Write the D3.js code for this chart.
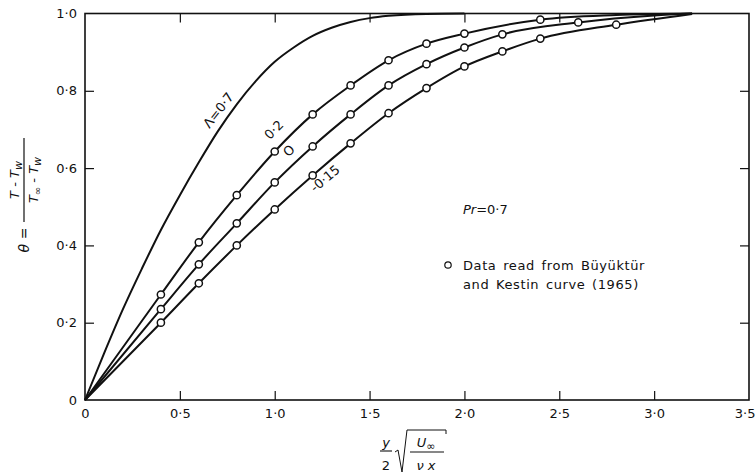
<!DOCTYPE html>
<html>
<head>
<meta charset="utf-8">
<script src="https://cdn.jsdelivr.net/npm/d3@7/dist/d3.min.js"></script>
<style>
  body { margin: 0; background: #fff; }
  svg text { font-family: "DejaVu Sans", sans-serif; fill: #111; }
</style>
</head>
<body>
<div id="container"></div>
<script>
let w = 755;
let h = 476;

// curve for Lambda = 0.7 (no data points)
let lam07X = [0, 0.1, 0.2, 0.3, 0.4, 0.5, 0.6, 0.7, 0.8, 0.9, 1.0, 1.1, 1.2, 1.3, 1.4, 1.5, 1.6, 1.8, 2.0];
let lam07Y = [0, 0.12, 0.235, 0.34, 0.44, 0.53, 0.615, 0.695, 0.765, 0.825, 0.875, 0.912, 0.942, 0.963, 0.978, 0.988, 0.994, 0.999, 1.0];

// Lambda = 0.2
let lam02X = [0, 0.4, 0.6, 0.8, 1.0, 1.2, 1.4, 1.6, 1.8, 2.0, 2.4, 2.8, 3.2];
let lam02Y = [0, 0.273, 0.408, 0.53, 0.643, 0.739, 0.814, 0.879, 0.922, 0.948, 0.984, 0.996, 1.0];
let lam02Pts = [1, 2, 3, 4, 5, 6, 7, 8, 9, 10];

// Lambda = 0
let lam0X = [0, 0.4, 0.6, 0.8, 1.0, 1.2, 1.4, 1.6, 1.8, 2.0, 2.2, 2.6, 3.0, 3.2];
let lam0Y = [0, 0.235, 0.351, 0.457, 0.563, 0.656, 0.739, 0.814, 0.869, 0.912, 0.946, 0.977, 0.995, 1.0];
let lam0Pts = [1, 2, 3, 4, 5, 6, 7, 8, 9, 10, 11];

// Lambda = -0.15
let lamM15X = [0, 0.4, 0.6, 0.8, 1.0, 1.2, 1.4, 1.6, 1.8, 2.0, 2.2, 2.4, 2.8, 3.2];
let lamM15Y = [0, 0.2, 0.302, 0.4, 0.493, 0.581, 0.664, 0.742, 0.807, 0.863, 0.902, 0.935, 0.971, 0.999];
let lamM15Pts = [1, 2, 3, 4, 5, 6, 7, 8, 9, 10, 11, 12];

let xTicks = [0, 0.5, 1.0, 1.5, 2.0, 2.5, 3.0, 3.5];
let yTicks = [0, 0.2, 0.4, 0.6, 0.8, 1.0];

let svg = d3.select("#container")
  .append("svg")
  .attr("width", w)
  .attr("height", h);

let xScale = d3.scaleLinear().domain([0, 3.5]).range([85, 749]);
let yScale = d3.scaleLinear().domain([0, 1]).range([400, 13.5]);

let fmt = d => d === 0 ? "0" : d3.format(".1f")(d).replace(".", "\u00b7");

// frame
svg.append("rect")
  .attr("x", xScale(0))
  .attr("y", yScale(1))
  .attr("width", xScale(3.5) - xScale(0))
  .attr("height", yScale(0) - yScale(1))
  .attr("fill", "none")
  .attr("stroke", "#111")
  .attr("stroke-width", 1.6);

// axes, ticks pointing inward
let innerX = xTicks.filter(d => d > 0 && d < 3.5);
let innerY = yTicks.filter(d => d > 0 && d < 1);

let bottom = svg.append("g")
  .attr("transform", "translate(0," + yScale(0) + ")")
  .call(d3.axisBottom(xScale).tickValues(xTicks).tickSize(-9).tickSizeOuter(0).tickPadding(9).tickFormat(fmt));

let left = svg.append("g")
  .attr("transform", "translate(" + xScale(0) + ",0)")
  .call(d3.axisLeft(yScale).tickValues(yTicks).tickSize(-9).tickSizeOuter(0).tickPadding(8).tickFormat(fmt));

svg.append("g")
  .attr("transform", "translate(0," + yScale(1) + ")")
  .call(d3.axisTop(xScale).tickValues(innerX).tickSize(-9).tickSizeOuter(0).tickFormat(""));

svg.append("g")
  .attr("transform", "translate(" + xScale(3.5) + ",0)")
  .call(d3.axisRight(yScale).tickValues(innerY).tickSize(-9).tickSizeOuter(0).tickFormat(""));

svg.selectAll(".domain").remove();
svg.selectAll(".tick line").attr("stroke", "#111").attr("stroke-width", 1.2);
svg.selectAll(".tick text").style("font-size", "13px").attr("fill", "#111");
// hide end ticks lying on the frame
bottom.selectAll(".tick line").filter(d => d === 0 || d === 3.5).remove();
left.selectAll(".tick line").filter(d => d === 0 || d === 1).remove();
// keep the last x label inside the page
bottom.selectAll(".tick text").filter(d => d === 3.5).attr("text-anchor", "end").attr("x", 6);

// curves
let line = d3.line()
  .x(d => xScale(d[0]))
  .y(d => yScale(d[1]))
  .curve(d3.curveMonotoneX);

let series = [
  { xs: lam07X, ys: lam07Y, pts: [] },
  { xs: lam02X, ys: lam02Y, pts: lam02Pts },
  { xs: lam0X, ys: lam0Y, pts: lam0Pts },
  { xs: lamM15X, ys: lamM15Y, pts: lamM15Pts }
];

series.forEach(function (s) {
  let data = s.xs.map((x, i) => [x, s.ys[i]]);
  svg.append("path")
    .datum(data)
    .attr("fill", "none")
    .attr("stroke", "#111")
    .attr("stroke-width", 2)
    .attr("d", line);
});

series.forEach(function (s) {
  svg.selectAll(null)
    .data(s.pts.map(i => [s.xs[i], s.ys[i]]))
    .enter()
    .append("circle")
    .attr("cx", d => xScale(d[0]))
    .attr("cy", d => yScale(d[1]))
    .attr("r", 3.6)
    .attr("fill", "#fff")
    .attr("stroke", "#111")
    .attr("stroke-width", 1.5);
});

// curve labels
function rotLabel(txt, x, y, ang) {
  svg.append("text")
    .attr("transform", "translate(" + x + "," + y + ") rotate(" + ang + ")")
    .attr("text-anchor", "middle")
    .style("font-size", "13px")
    .text(txt);
}
rotLabel("\u039b=0\u00b77", 222, 113, -52);
rotLabel("0\u00b72", 277, 133, -45);
rotLabel("O", 292, 154, -45);
rotLabel("-0\u00b715", 328, 182, -40);

// Pr label
let pr = svg.append("text").attr("x", 463).attr("y", 214).style("font-size", "13px");
pr.append("tspan").style("font-style", "italic").text("Pr");
pr.append("tspan").text("=0\u00b77");

// legend
svg.append("circle").attr("cx", 448).attr("cy", 265).attr("r", 3.2)
  .attr("fill", "#fff").attr("stroke", "#111").attr("stroke-width", 1.2);
svg.append("text").attr("x", 463).attr("y", 270).style("font-size", "13px")
  .style("letter-spacing", "0.6px").style("word-spacing", "2px")
  .text("Data read  from Büyüktür");
svg.append("text").attr("x", 463).attr("y", 289).style("font-size", "13px")
  .style("letter-spacing", "0.6px").style("word-spacing", "2px")
  .text("and Kestin curve (1965)");

// y axis label: theta = (T - Tw)/(Tinf - Tw)
let yl = svg.append("g").attr("transform", "translate(24,200) rotate(-90)");
yl.append("text").attr("x", -40).attr("y", 5).attr("text-anchor", "middle")
  .style("font-size", "14px").style("font-style", "italic").text("\u03b8 =");
yl.append("line").attr("x1", -22).attr("x2", 62).attr("y1", 0).attr("y2", 0)
  .attr("stroke", "#111").attr("stroke-width", 1.2);
let num = yl.append("text").attr("x", 20).attr("y", -5).attr("text-anchor", "middle")
  .style("font-size", "13px").style("font-style", "italic");
num.append("tspan").text("T - T");
num.append("tspan").attr("dy", 3).style("font-size", "11px").text("w");
let den = yl.append("text").attr("x", 20).attr("y", 14).attr("text-anchor", "middle")
  .style("font-size", "13px").style("font-style", "italic");
den.append("tspan").text("T");
den.append("tspan").attr("dy", 3).style("font-size", "10px").text("\u221e");
den.append("tspan").attr("dy", -3).text(" - T");
den.append("tspan").attr("dy", 3).style("font-size", "11px").text("w");

// x axis label: y/2 sqrt(Uinf / nu x)
let xl = svg.append("g");
xl.append("text").attr("x", 386).attr("y", 447).attr("text-anchor", "middle")
  .style("font-size", "13px").style("font-style", "italic").text("y");
xl.append("line").attr("x1", 380).attr("x2", 392).attr("y1", 451).attr("y2", 451)
  .attr("stroke", "#111").attr("stroke-width", 1.1);
xl.append("text").attr("x", 386).attr("y", 470).attr("text-anchor", "middle")
  .style("font-size", "13px").text("2");
xl.append("path")
  .attr("d", "M395,452 L398,450 L402,472 L407,430 L446,430 L446,434")
  .attr("fill", "none").attr("stroke", "#111").attr("stroke-width", 1);
let u = xl.append("text").attr("x", 426).attr("y", 447).attr("text-anchor", "middle")
  .style("font-size", "13px").style("font-style", "italic");
u.append("tspan").text("U");
u.append("tspan").attr("dy", 3).style("font-size", "11px").style("font-style", "normal").text("\u221e");
xl.append("line").attr("x1", 410).attr("x2", 444).attr("y1", 452).attr("y2", 452)
  .attr("stroke", "#111").attr("stroke-width", 1.1);
xl.append("text").attr("x", 426).attr("y", 470).attr("text-anchor", "middle")
  .style("font-size", "13px").style("font-style", "italic").text("\u03bd x");
</script>
</body>
</html>
